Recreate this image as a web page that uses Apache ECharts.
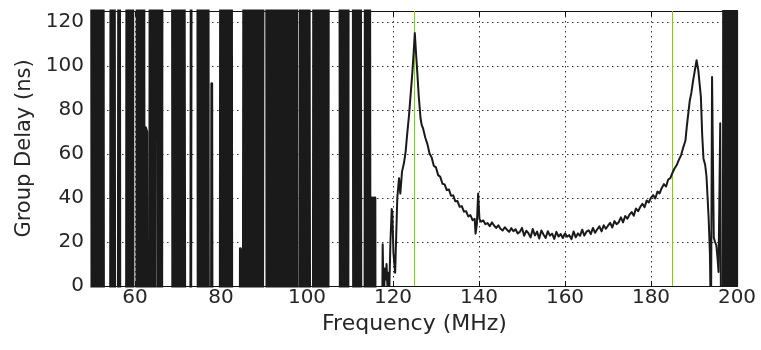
<!DOCTYPE html>
<html><head><meta charset="utf-8">
<script src="https://cdn.jsdelivr.net/npm/echarts@6/dist/echarts.min.js"></script>
<style>html,body{margin:0;padding:0;background:#fff}#c{width:761px;height:350px}</style>
</head><body><div id="c"></div>
<script>
// Tick labels
const xTickLabels = [60, 80, 100, 120, 140, 160, 180, 200];
const yTickLabels = [0, 20, 40, 60, 80, 100, 120];
// Marker (green) frequencies, MHz
const markerFreqs = [125, 185];

// Out-of-band region: group delay swings far off scale (clipped)
const noiseFreq = [
  49.8, 50.1, 50.4, 50.7, 51.2, 51.75, 52.0, 52.25, 52.5, 52.8,
  54.2, 54.5, 54.8, 55.1, 55.4, 56.0, 56.3, 56.6, 57.9, 58.2,
  58.5, 58.8, 59.1, 59.4, 59.65, 60.3, 60.6, 60.9, 61.2, 61.75,
  62.0, 62.2, 62.45, 62.75, 63.0, 63.3, 63.6, 63.9, 64.2, 64.5,
  64.85, 65.2, 65.5, 65.8, 66.1, 66.4, 68.6, 68.9, 69.2, 69.5,
  70.0, 70.35, 70.65, 70.95, 71.25, 71.8, 72.8, 73.2, 74.5, 74.8,
  75.1, 75.4, 75.7, 76.0, 76.3, 76.6, 76.9, 77.2, 77.6, 77.85,
  78.1, 79.7, 80.0, 80.3, 80.6, 80.9, 81.2, 81.45, 81.75, 82.05,
  82.35, 82.6, 84.3, 84.5, 84.7, 84.9, 85.0, 85.45, 85.9, 86.35,
  86.8, 87.25, 87.7, 88.15, 88.6, 89.05, 89.5, 89.95, 90.5, 90.8,
  91.25, 91.7, 92.15, 92.6, 93.05, 93.5, 93.95, 94.4, 94.85, 95.3,
  95.75, 96.2, 96.65, 97.1, 97.55, 97.75, 98.25, 98.55, 99.0, 99.45,
  99.9, 100.35, 100.8, 101.35, 101.65, 102.1, 102.55, 103.0, 103.45, 103.9,
  104.35, 104.8, 105.05, 107.55, 107.85, 108.25, 108.65, 108.95, 109.15, 109.4,
  109.7, 110.65, 110.95, 111.4, 111.85, 112.3, 112.7, 113.35, 113.65, 114.05,
  114.45, 114.8, 115.0, 115.2, 115.4, 115.6, 115.8, 116.0
];
const noiseDelay = [
  410, -310, 380, -290, 420, -300, 380, -300, 410, -300,
  -280, 400, -320, 390, -300, -290, 410, -300, -310, 400,
  -280, 420, -300, 390, -310, -300, 410, -290, 400, -300,
  380, -300, 72, 70, -300, -310, 400, -290, 410, -300,
  390, 400, -300, 420, -280, 400, 410, -300, 390, -310,
  400, -300, 410, -290, 400, -300, -310, 390, 400, -300,
  410, -290, 400, -310, 420, -300, 390, -300, -290, 92,
  -300, -310, 400, -290, 410, -300, 390, -300, 400, -310,
  420, -300, -300, 17, 15, -300, -290, 400, -300, 410,
  -290, 400, -310, 420, -300, 390, -300, 400, 410, -300,
  400, -290, 410, -300, 390, -310, 400, -300, 420, -290,
  400, -300, 410, -310, 400, -300, -290, 400, -300, 410,
  -290, 400, -300, -310, 400, -300, 420, -290, 400, -300,
  410, -300, 390, 400, -300, 410, -290, 400, 410, -300,
  400, 390, -300, 410, -290, 400, -300, -310, 400, -300,
  410, -300, 40, -300, 40, -300, 40, -300
];

// Pass band region
const passFreq = [
  117.4, 117.6, 117.85, 118.1, 118.3, 118.5, 118.7, 118.9, 119.1, 119.4,
  119.7, 119.85, 120.1, 120.5, 121.0, 121.4, 121.7, 122.1, 122.56, 122.93,
  123.3, 123.72, 124.1, 124.5, 124.8, 125.07, 125.35, 125.65, 126.0, 126.42,
  126.7, 126.98, 127.5, 128.0, 128.5, 129.0, 129.5, 130.0, 130.5, 131.0,
  131.5, 132.0, 132.5, 133.0, 133.5, 134.0, 134.5, 135.0, 135.5, 136.0,
  136.5, 137.0, 137.5, 138.0, 138.5, 139.0, 139.2, 139.5, 139.8, 140.1,
  140.5, 141.0, 141.5, 142.0, 142.5, 143.0, 143.5, 144.0, 144.5, 145.0,
  145.5, 146.0, 146.5, 147.0, 147.5, 148.0, 148.5, 149.0, 149.5, 150.0,
  150.5, 151.0, 151.5, 152.0, 152.5, 153.0, 153.5, 154.0, 154.5, 155.0,
  155.5, 156.0, 156.5, 157.0, 157.5, 158.0, 158.5, 159.0, 159.5, 160.0,
  160.5, 161.0, 161.5, 162.0, 162.5, 163.0, 163.5, 164.0, 164.5, 165.0,
  165.5, 166.0, 166.5, 167.0, 167.5, 168.0, 168.5, 169.0, 169.5, 170.0,
  170.5, 171.0, 171.5, 172.0, 172.5, 173.0, 173.5, 174.0, 174.5, 175.0,
  175.5, 176.0, 176.5, 177.0, 177.5, 178.0, 178.5, 179.0, 179.5, 180.0,
  180.5, 181.0, 181.5, 182.0, 182.5, 183.0, 183.5, 184.0, 184.5, 185.0,
  185.5, 186.0, 186.4, 187.0, 187.5, 188.0, 188.3, 189.0, 189.4, 189.8,
  190.2, 190.6, 191.0, 191.3, 191.6, 191.9, 192.2, 192.6, 192.9, 193.4,
  193.7, 193.95, 194.2, 194.6, 194.9, 195.2, 195.5, 195.7, 196.1, 196.4,
  196.6, 196.9, 197.2, 197.5, 197.8, 198.1, 198.4, 198.7, 199.0, 199.3,
  199.6, 199.9, 200.2
];
const passDelay = [
  -40, 19, -10, 8, 3, 10, 0, 6, -5, 20,
  35, 33, 15, 6, 40, 49, 42, 52, 56, 61,
  69, 77.5, 87, 97, 106, 115, 106, 97, 86, 76,
  73, 71.7, 67.5, 64.5, 60.2, 58.4, 54.6, 53.9, 50.4, 49.6,
  46.5, 46.2, 43.6, 43.9, 41.0, 41.2, 38.5, 38.6, 36.0, 36.3,
  33.8, 34.0, 31.6, 32.2, 29.9, 30.5, 23.8, 28.0, 42.0, 30.5,
  29.2, 29.8, 28.1, 28.6, 27.2, 28.9, 27.5, 26.4, 27.6, 26.0,
  25.2, 26.7, 25.6, 24.6, 26.3, 24.9, 25.8, 23.9, 24.6, 26.4,
  22.8, 25.1, 24.0, 22.1, 25.9, 23.0, 24.7, 21.6, 25.2, 23.4,
  21.8, 24.9, 22.9, 23.8, 21.4, 24.6, 22.5, 23.6, 21.8, 23.9,
  22.4, 23.1, 21.3, 24.8, 22.1, 23.9, 22.8, 25.6, 22.9, 24.7,
  25.3, 23.6, 26.4, 24.2, 25.8, 27.1, 24.8, 27.6, 26.0, 27.4,
  28.7, 26.6, 29.5, 28.1, 29.0, 31.2, 28.9, 31.8, 30.6, 32.4,
  33.6, 31.9, 35.2, 34.0, 35.9, 37.4, 35.8, 38.9, 38.0, 40.1,
  41.3, 39.8, 42.9, 42.1, 44.6, 46.3, 45.2, 48.4, 49.0, 51.5,
  53.5, 55, 57, 59.5, 63, 66, 72, 84, 88, 93.5,
  98, 102.6, 98, 92, 86, 69, 58, 55, 50, 31,
  15, -20, 95, 22, 20, 18.5, 12, 6.4, 74, -80,
  -300, 400, -310, 410, -290, 400, -300, 420, -300, 390,
  -310, 400, -300
];

const noiseData = noiseFreq.map((f, i) => [f, noiseDelay[i]]);
const passData = passFreq.map((f, i) => [f, passDelay[i]]);

const FONT = 'DejaVu Sans';
const TXT = '#262626';
const FRAME = { onZero: false, lineStyle: { color: '#111', width: 1.2 } };
const TICK = { inside: true, length: 5, lineStyle: { color: '#111', width: 1 } };
const GRIDLINE = { show: true, lineStyle: { color: '#333', width: 1, type: [1.5, 3.5] } };

const xBase = { type: 'value', min: 50, max: 200, minInterval: 20, maxInterval: 20 };
const yBase = { type: 'value', min: 0, max: 125, minInterval: 20, maxInterval: 20 };

const chart = echarts.init(document.getElementById('c'), null, { renderer: 'canvas' });
chart.setOption({
  animation: false,
  backgroundColor: '#fff',
  grid: { left: 92, right: 24, top: 11, bottom: 64, containLabel: false },
  xAxis: [
    Object.assign({}, xBase, {
      position: 'bottom',
      name: 'Frequency (MHz)', nameLocation: 'middle', nameGap: 24,
      nameTextStyle: { fontFamily: FONT, fontSize: 22, color: TXT },
      axisLine: FRAME, axisTick: TICK,
      axisLabel: { margin: 2, fontFamily: FONT, fontSize: 20, color: TXT, showMinLabel: false,
        formatter: v => xTickLabels.includes(v) ? String(v) : '' },
      splitLine: GRIDLINE
    }),
    Object.assign({}, xBase, {
      position: 'top', axisLine: FRAME, axisTick: TICK,
      axisLabel: { show: false }, splitLine: { show: false }
    })
  ],
  yAxis: [
    Object.assign({}, yBase, {
      position: 'left',
      name: 'Group Delay (ns)', nameLocation: 'middle', nameGap: 57,
      nameTextStyle: { fontFamily: FONT, fontSize: 21, color: TXT },
      axisLine: FRAME, axisTick: TICK,
      axisLabel: { margin: 8, fontFamily: FONT, fontSize: 20, color: TXT, showMaxLabel: false,
        formatter: v => yTickLabels.includes(v) ? String(v) : '' },
      splitLine: GRIDLINE
    }),
    Object.assign({}, yBase, {
      position: 'right', axisLine: FRAME, axisTick: TICK,
      axisLabel: { show: false }, splitLine: { show: false }
    })
  ],
  series: [{
    type: 'line', data: noiseData, xAxisIndex: 0, yAxisIndex: 0,
    showSymbol: false, symbol: 'none', clip: true, silent: true, z: 3,
    lineStyle: { color: '#1a1a1a', width: 2.8, join: 'round' },
    markLine: {
      silent: true, symbol: 'none', z: 1, animation: false,
      label: { show: false },
      lineStyle: { color: '#86c04a', width: 1, type: 'solid' },
      data: markerFreqs.map(f => ({ xAxis: f }))
    }
  }, {
    type: 'line', data: passData, xAxisIndex: 0, yAxisIndex: 0,
    showSymbol: false, symbol: 'none', clip: true, silent: true, z: 3,
    lineStyle: { color: '#1a1a1a', width: 2, join: 'round' }
  }]
});
</script>
</body></html>
